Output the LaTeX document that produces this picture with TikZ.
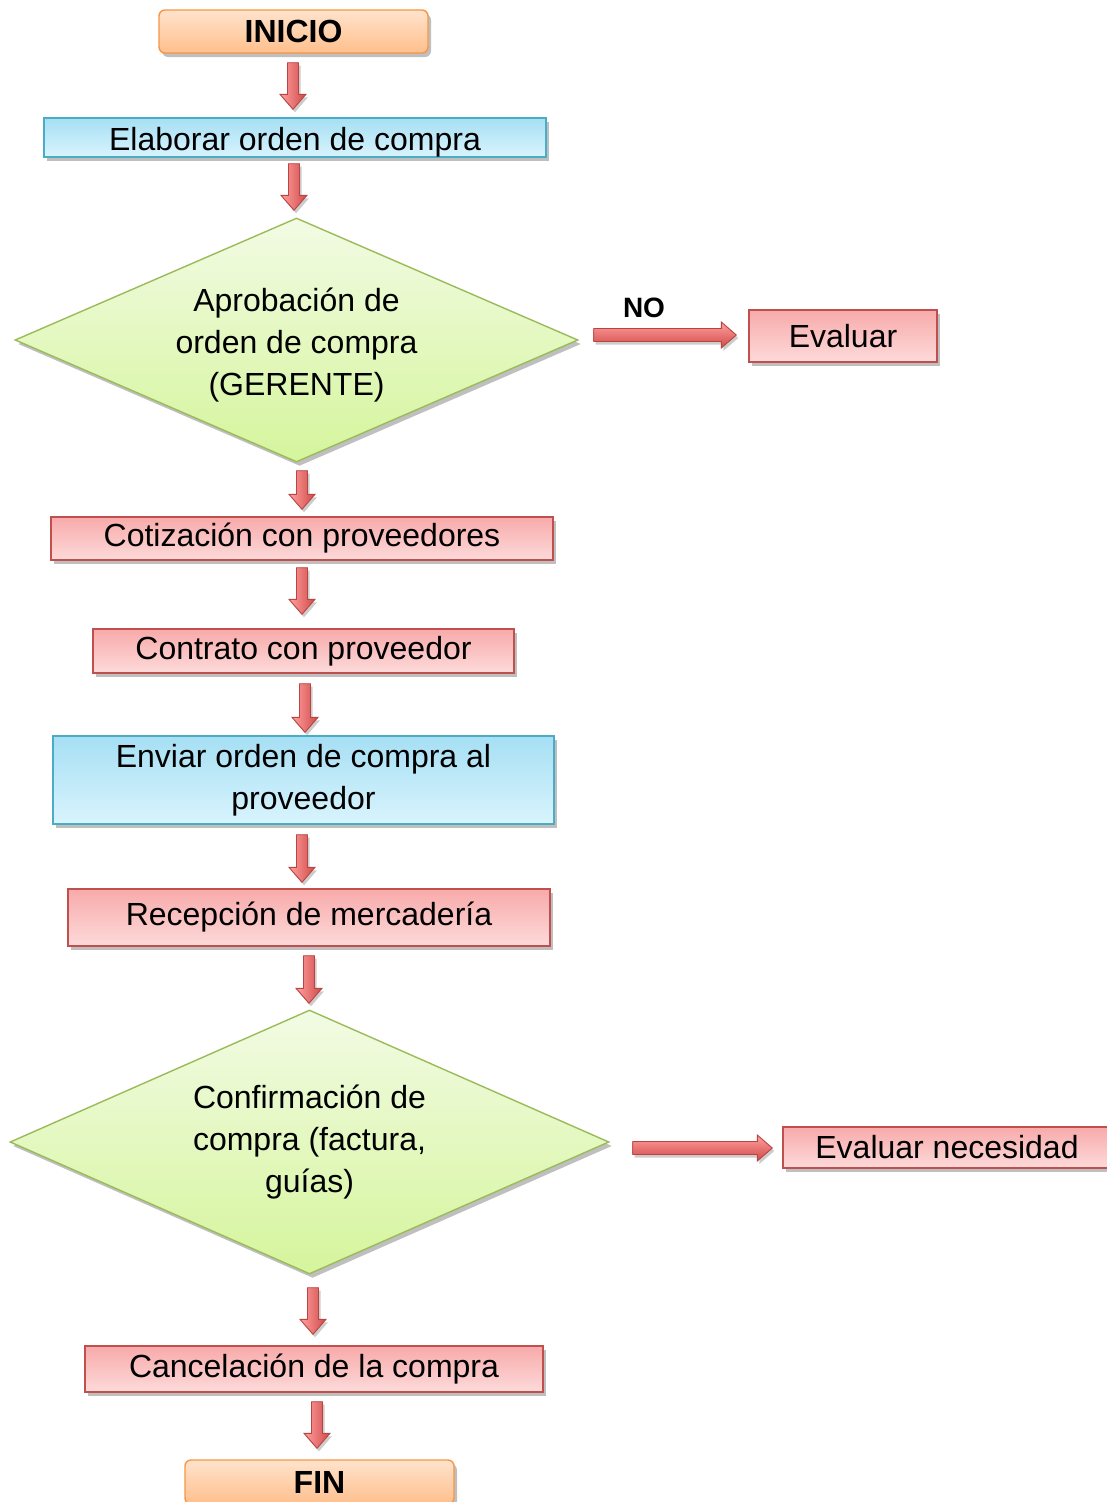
\documentclass[tikz,border=0pt]{standalone}
\usepackage{fontspec}
\setmainfont{Liberation Sans}
\usetikzlibrary{shapes.geometric,shadows,calc}
\definecolor{redline}{HTML}{C0504D}
\definecolor{redtop}{HTML}{F8AAAA}
\definecolor{redbot}{HTML}{FDDADA}
\definecolor{blueline}{HTML}{4BACC6}
\definecolor{bluetop}{HTML}{A6DFF4}
\definecolor{bluebot}{HTML}{D9F4FD}
\definecolor{orangeline}{HTML}{F79646}
\definecolor{orangetop}{HTML}{FFE3CC}
\definecolor{orangebot}{HTML}{FFBF8C}
\definecolor{greenline}{HTML}{9BBB59}
\definecolor{greentop}{HTML}{F2FBE4}
\definecolor{greenbot}{HTML}{D5F59C}
\definecolor{arrowlight}{HTML}{FFA0A0}
\definecolor{arrowdark}{HTML}{D04A47}
\definecolor{arrowline}{HTML}{B84542}
\begin{document}
\begin{tikzpicture}[x=1pt,y=-1pt,
  base/.style={draw, line width=1.4pt, inner sep=0pt, align=center, text=black,
    font=\fontsize{32}{42}\selectfont,
    drop shadow={shadow xshift=3pt, shadow yshift=-4pt, opacity=0.25, fill=black}},
  redbox/.style={base, rectangle, draw=redline, top color=redtop, bottom color=redbot},
  bluebox/.style={base, rectangle, draw=blueline, top color=bluetop, bottom color=bluebot},
  termbox/.style={base, rectangle, rounded corners=6pt, draw=orangeline, top color=orangetop, bottom color=orangebot, font=\fontsize{32}{42}\selectfont\bfseries},
  decision/.style={base, diamond, aspect=2.3, draw=greenline, top color=greentop, bottom color=greenbot},
  barrow/.style={draw=arrowline, line width=0.9pt, line join=miter,
    drop shadow={shadow xshift=2pt, shadow yshift=-3pt, opacity=0.2, fill=black}},
  varrow/.style={barrow, left color=arrowlight, right color=arrowdark,
    to path={let \p1=(\tikztostart), \p2=(\tikztotarget) in
      (\x1-5.5pt,\y1) -- (\x1+5.5pt,\y1) -- (\x1+5.5pt,\y2+15pt) -- (\x1+13pt,\y2+15pt)
      -- (\x1,\y2) -- (\x1-13pt,\y2+15pt) -- (\x1-5.5pt,\y2+15pt) -- cycle}},
  harrow/.style={barrow, top color=arrowlight, bottom color=arrowdark,
    to path={let \p1=(\tikztostart), \p2=(\tikztotarget) in
      (\x1,\y1+6.5pt) -- (\x1,\y1-6.5pt) -- (\x2-15pt,\y1-6.5pt) -- (\x2-15pt,\y1-13pt)
      -- (\x2,\y1) -- (\x2-15pt,\y1+13pt) -- (\x2-15pt,\y1+6.5pt) -- cycle}}
]
\useasboundingbox[fill=white] (0,0) rectangle (1107,1502);

\node[termbox, minimum width=269pt, minimum height=43pt] (inicio) at (293.5,31.5) {INICIO};
\node[bluebox, minimum width=502pt, minimum height=39pt, text height=26pt, text depth=0pt] (elab) at (295,137.5) {Elaborar orden de compra};
\node[decision, minimum width=563pt, minimum height=244pt, text height=111pt, text depth=0pt] (dec1) at (296.5,340) {Aprobación de\\orden de compra\\(GERENTE)};
\node[font=\fontsize{28}{34}\selectfont\bfseries] (no) at (644,308) {NO};
\node[redbox, minimum width=188pt, minimum height=52pt] (eval) at (843,336) {Evaluar};
\node[redbox, minimum width=502pt, minimum height=43pt] (coti) at (302,538.5) {Cotización con proveedores};
\node[redbox, minimum width=421pt, minimum height=44pt] (contr) at (303.5,651) {Contrato con proveedor};
\node[bluebox, minimum width=501pt, minimum height=88pt] (env) at (303.5,780) {Enviar orden de compra al\\proveedor};
\node[redbox, minimum width=482pt, minimum height=57pt] (recep) at (309,917.5) {Recepción de mercadería};
\node[decision, minimum width=599pt, minimum height=264pt] (dec2) at (309.5,1142) {Confirmación de\\compra (factura,\\guías)};
\node[redbox, minimum width=328pt, minimum height=41pt] (evalnec) at (947,1147.5) {Evaluar necesidad};
\node[redbox, minimum width=458pt, minimum height=46pt] (canc) at (314,1369) {Cancelación de la compra};
\node[termbox, minimum width=269pt, minimum height=44pt] (fin) at (319.5,1482) {FIN};

\path[varrow] ($(inicio.south)+(-0.5,9)$) to ($(elab.north)+(0,-8)$);
\path[varrow] ($(elab.south)+(-1,6)$) to ($(dec1.north)+(0,-7)$);
\path[varrow] ($(dec1.south)+(5.5,8)$) to ($(coti.north)+(0,-7)$);
\path[varrow] ($(coti.south)+(0,7)$) to ($(contr.north)+(0,-14)$);
\path[varrow] ($(contr.south)+(1.5,10)$) to ($(env.north)+(0,-3)$);
\path[varrow] ($(env.south)+(-1.5,10)$) to ($(recep.north)+(0,-6)$);
\path[varrow] ($(recep.south)+(0,9)$) to ($(dec2.north)+(0,-6)$);
\path[varrow] ($(dec2.south)+(3.5,13)$) to ($(canc.north)+(0,-11)$);
\path[varrow] ($(canc.south)+(3,9)$) to ($(fin.north)+(0,-11)$);
\path[harrow] ($(dec1.east)+(15,-5)$) to ($(eval.west)+(-12,0)$);
\path[harrow] ($(dec2.east)+(23,6)$) to ($(evalnec.west)+(-10,0)$);
\end{tikzpicture}
\end{document}
